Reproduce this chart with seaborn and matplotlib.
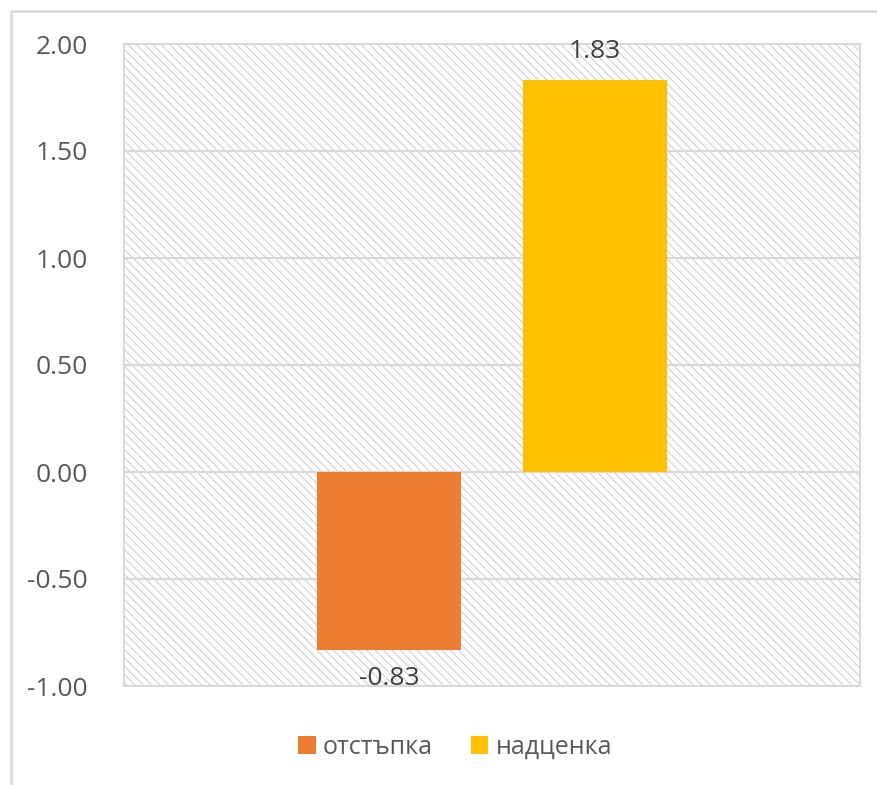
import matplotlib
matplotlib.use("Agg")
import matplotlib.pyplot as plt
from matplotlib.patches import Rectangle
import seaborn as sns

categories = ["отстъпка", "надценка"]
values = [-0.83, 1.83]
colors = ["#ED7D31", "#FFC000"]
yticks = [-1.0, -0.5, 0.0, 0.5, 1.0, 1.5, 2.0]

sns.set_style("white")
plt.rcParams["font.family"] = ["Open Sans", "DejaVu Sans"]
plt.rcParams["hatch.color"] = "#cccccc"
plt.rcParams["hatch.linewidth"] = 0.7

text_col = "#595959"
grid_col = "#d9d9d9"

fig = plt.figure(figsize=(8.77, 7.85), dpi=100)
ax = fig.add_axes([124 / 877, 1 - 686 / 785, 736 / 877, 642 / 785])

# outer chart border (cut off at right and bottom)
fig.patches.append(Rectangle((11 / 877, -0.1), 1.2, 1.1 - 11 / 785,
                             transform=fig.transFigure, fill=False,
                             edgecolor=grid_col, lw=1.8, zorder=0))

# hatched plot area background
ax.add_patch(Rectangle((0, 0), 1, 1, transform=ax.transAxes, facecolor="white",
                       edgecolor="#cccccc", hatch="\\\\\\\\", lw=0, zorder=0))

df = {"x": [""] * len(categories), "val": values, "cat": categories}
sns.barplot(data=df, x="x", y="val", hue="cat", palette=colors, width=0.56, gap=0.3,
            saturation=1, linewidth=0, ax=ax, zorder=3)

ax.set_ylim(-1.0, 2.0)
ax.set_xlim(-0.5, 0.5)
ax.set_yticks(yticks)
ax.set_yticklabels([f"{t:.2f}" for t in yticks], fontsize=19, color=text_col)
ax.tick_params(axis="y", length=0, pad=26)
ax.set_xticks([])
ax.set_xlabel("")
ax.set_ylabel("")
for t in yticks:
    ax.axhline(t, color=grid_col, lw=1.6, zorder=1)
for s in ax.spines.values():
    s.set_color(grid_col)
    s.set_linewidth(1.5)

for cont in ax.containers:
    ax.bar_label(cont, fmt="%.2f", padding=12, fontsize=19, color="#404040")

ax.legend(loc="center", bbox_to_anchor=(455 / 877, 1 - 747 / 785),
          bbox_transform=fig.transFigure, ncol=2, frameon=False, fontsize=18,
          labelcolor=text_col, handlelength=0.7, handleheight=0.7,
          handletextpad=0.3, columnspacing=1.5)

fig.savefig("out.png", dpi=100)
